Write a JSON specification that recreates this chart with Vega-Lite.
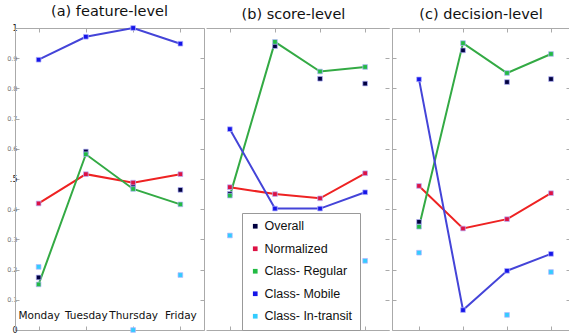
{
  "$schema": "https://vega.github.io/schema/vega-lite/v6.json",
  "padding": {"left": 6, "top": 3, "right": 0, "bottom": 0},
  "background": "white",
  "config": {"view": {"stroke": null}, "font": "DejaVu Sans"},
  "data": {"values": [
    {"panel": "a", "day": "Monday", "series": "Overall", "value": 0.174},
    {"panel": "a", "day": "Tuesday", "series": "Overall", "value": 0.591},
    {"panel": "a", "day": "Thursday", "series": "Overall", "value": 0.475},
    {"panel": "a", "day": "Friday", "series": "Overall", "value": 0.464},
    {"panel": "a", "day": "Monday", "series": "Normalized", "value": 0.419},
    {"panel": "a", "day": "Tuesday", "series": "Normalized", "value": 0.516},
    {"panel": "a", "day": "Thursday", "series": "Normalized", "value": 0.488},
    {"panel": "a", "day": "Friday", "series": "Normalized", "value": 0.516},
    {"panel": "a", "day": "Monday", "series": "Class- Regular", "value": 0.151},
    {"panel": "a", "day": "Tuesday", "series": "Class- Regular", "value": 0.582},
    {"panel": "a", "day": "Thursday", "series": "Class- Regular", "value": 0.467},
    {"panel": "a", "day": "Friday", "series": "Class- Regular", "value": 0.416},
    {"panel": "a", "day": "Monday", "series": "Class- Mobile", "value": 0.895},
    {"panel": "a", "day": "Tuesday", "series": "Class- Mobile", "value": 0.971},
    {"panel": "a", "day": "Thursday", "series": "Class- Mobile", "value": 1.0},
    {"panel": "a", "day": "Friday", "series": "Class- Mobile", "value": 0.948},
    {"panel": "a", "day": "Monday", "series": "Class- In-transit", "value": 0.209},
    {"panel": "a", "day": "Thursday", "series": "Class- In-transit", "value": 0.0},
    {"panel": "a", "day": "Friday", "series": "Class- In-transit", "value": 0.182},
    {"panel": "b", "day": "Monday", "series": "Overall", "value": 0.451},
    {"panel": "b", "day": "Tuesday", "series": "Overall", "value": 0.94},
    {"panel": "b", "day": "Thursday", "series": "Overall", "value": 0.832},
    {"panel": "b", "day": "Friday", "series": "Overall", "value": 0.816},
    {"panel": "b", "day": "Monday", "series": "Normalized", "value": 0.473},
    {"panel": "b", "day": "Tuesday", "series": "Normalized", "value": 0.45},
    {"panel": "b", "day": "Thursday", "series": "Normalized", "value": 0.436},
    {"panel": "b", "day": "Friday", "series": "Normalized", "value": 0.519},
    {"panel": "b", "day": "Monday", "series": "Class- Regular", "value": 0.445},
    {"panel": "b", "day": "Tuesday", "series": "Class- Regular", "value": 0.954},
    {"panel": "b", "day": "Thursday", "series": "Class- Regular", "value": 0.856},
    {"panel": "b", "day": "Friday", "series": "Class- Regular", "value": 0.871},
    {"panel": "b", "day": "Monday", "series": "Class- Mobile", "value": 0.665},
    {"panel": "b", "day": "Tuesday", "series": "Class- Mobile", "value": 0.402},
    {"panel": "b", "day": "Thursday", "series": "Class- Mobile", "value": 0.402},
    {"panel": "b", "day": "Friday", "series": "Class- Mobile", "value": 0.456},
    {"panel": "b", "day": "Monday", "series": "Class- In-transit", "value": 0.313},
    {"panel": "b", "day": "Friday", "series": "Class- In-transit", "value": 0.229},
    {"panel": "c", "day": "Monday", "series": "Overall", "value": 0.358},
    {"panel": "c", "day": "Tuesday", "series": "Overall", "value": 0.926},
    {"panel": "c", "day": "Thursday", "series": "Overall", "value": 0.821},
    {"panel": "c", "day": "Friday", "series": "Overall", "value": 0.831},
    {"panel": "c", "day": "Monday", "series": "Normalized", "value": 0.477},
    {"panel": "c", "day": "Tuesday", "series": "Normalized", "value": 0.336},
    {"panel": "c", "day": "Thursday", "series": "Normalized", "value": 0.367},
    {"panel": "c", "day": "Friday", "series": "Normalized", "value": 0.453},
    {"panel": "c", "day": "Monday", "series": "Class- Regular", "value": 0.342},
    {"panel": "c", "day": "Tuesday", "series": "Class- Regular", "value": 0.95},
    {"panel": "c", "day": "Thursday", "series": "Class- Regular", "value": 0.851},
    {"panel": "c", "day": "Friday", "series": "Class- Regular", "value": 0.914},
    {"panel": "c", "day": "Monday", "series": "Class- Mobile", "value": 0.83},
    {"panel": "c", "day": "Tuesday", "series": "Class- Mobile", "value": 0.066},
    {"panel": "c", "day": "Thursday", "series": "Class- Mobile", "value": 0.196},
    {"panel": "c", "day": "Friday", "series": "Class- Mobile", "value": 0.252},
    {"panel": "c", "day": "Monday", "series": "Class- In-transit", "value": 0.256},
    {"panel": "c", "day": "Thursday", "series": "Class- In-transit", "value": 0.05},
    {"panel": "c", "day": "Friday", "series": "Class- In-transit", "value": 0.192}
  ]},
  "resolve": {"scale": {"x": "independent", "y": "independent", "fill": "shared", "stroke": "shared"}},
  "spacing": 1,
  "hconcat": [
    {
      "width": 189, "height": 302,
      "title": {"text": "(a) feature-level", "fontSize": 14.5, "fontWeight": "normal", "color": "#111", "offset": 5, "font": "DejaVu Sans"},
      "transform": [{"filter": "datum.panel == 'a'"}],
      "resolve": {"axis": {"x": "independent", "y": "independent"}},
      "layer": [
        {
          "transform": [{"filter": "datum.series == 'Normalized' || datum.series == 'Class- Regular' || datum.series == 'Class- Mobile'"}],
          "mark": {"type": "line", "strokeWidth": 2},
          "encoding": {
            "x": {"field": "day", "type": "ordinal", "sort": ["Monday", "Tuesday", "Thursday", "Friday"], "scale": {"type": "point", "padding": 0.5},
              "axis": {"orient": "bottom", "title": null, "labelAngle": 0, "labelFont": "DejaVu Sans", "labelFontSize": 10.5, "labelColor": "#111", "labelPadding": -16, "tickSize": -4, "tickColor": "#aaa", "domainColor": "#aaa", "grid": false}},
            "y": {"field": "value", "type": "quantitative", "scale": {"domain": [0, 1], "nice": false, "zero": false},
              "axis": {"orient": "left", "title": null, "values": [0, 0.1, 0.2, 0.3, 0.4, 0.5, 0.6, 0.7, 0.8, 0.9, 1], "format": ".1~f", "labelExpr": "datum.value == 0.5 ? '.5' : datum.label", "labelFontSize": {"condition": {"test": "datum.value == 0 || datum.value == 1 || datum.value == 0.5", "value": 8}, "value": 6.5}, "labelColor": {"condition": {"test": "datum.value == 0 || datum.value == 1 || datum.value == 0.5", "value": "#222"}, "value": "#777"}, "labelPadding": 2, "tickSize": -4, "tickColor": "#aaa", "domainColor": "#aaa", "grid": false}},
            "stroke": {"field": "series", "type": "nominal", "title": "lines", "scale": {"domain": ["Normalized", "Class- Regular", "Class- Mobile"], "range": ["#ee2222", "#33aa44", "#4444d8"]}, "legend": null}
          }
        },
        {
          "mark": {"type": "point", "shape": "square", "filled": true, "size": 22, "stroke": "#b4b4ff", "strokeWidth": 0.7, "opacity": 1},
          "encoding": {
            "x": {"field": "day", "type": "ordinal", "sort": ["Monday", "Tuesday", "Thursday", "Friday"],
              "axis": {"orient": "top", "title": null, "labels": false, "tickSize": -4, "tickColor": "#aaa", "domainColor": "#aaa", "grid": false}},
            "y": {"field": "value", "type": "quantitative",
              "axis": {"orient": "right", "title": null, "labels": false, "values": [0, 0.1, 0.2, 0.3, 0.4, 0.5, 0.6, 0.7, 0.8, 0.9, 1], "tickSize": -4, "tickColor": "#aaa", "domainColor": "#aaa", "grid": false}},
            "fill": {"field": "series", "type": "nominal", "title": "markers", "scale": {"domain": ["Overall", "Normalized", "Class- Regular", "Class- Mobile", "Class- In-transit"], "range": ["#000040", "#dd1144", "#22bb44", "#1515e8", "#33ccff"]},
              "legend": {"orient": "none", "legendX": 227, "legendY": 185, "title": null, "fillColor": "white", "strokeColor": "#999", "padding": 7, "rowPadding": 9.5, "labelFont": "Liberation Sans", "labelFontSize": 12.5, "labelColor": "#111", "symbolType": "square", "symbolSize": 22, "symbolStrokeWidth": 0, "labelOffset": 3, "cornerRadius": 0}}
          }
        }
      ]
    },
    {
      "width": 183, "height": 302,
      "title": {"text": "(b) score-level", "fontSize": 14.5, "fontWeight": "normal", "color": "#111", "offset": 5, "font": "DejaVu Sans", "dx": -4},
      "transform": [{"filter": "datum.panel == 'b'"}],
      "resolve": {"axis": {"x": "independent", "y": "independent"}},
      "layer": [
        {
          "transform": [{"filter": "datum.series == 'Normalized' || datum.series == 'Class- Regular' || datum.series == 'Class- Mobile'"}],
          "mark": {"type": "line", "strokeWidth": 2},
          "encoding": {
            "x": {"field": "day", "type": "ordinal", "sort": ["Monday", "Tuesday", "Thursday", "Friday"], "scale": {"type": "point", "padding": 0.53},
              "axis": {"orient": "bottom", "title": null, "labels": false, "tickSize": -4, "tickColor": "#aaa", "domainColor": "#aaa", "grid": false}},
            "y": {"field": "value", "type": "quantitative", "scale": {"domain": [0, 1], "nice": false, "zero": false},
              "axis": {"orient": "left", "title": null, "labels": false, "ticks": false, "domain": false, "grid": false}},
            "stroke": {"field": "series", "type": "nominal", "title": "lines", "legend": null}
          }
        },
        {
          "mark": {"type": "point", "shape": "square", "filled": true, "size": 22, "stroke": "#b4b4ff", "strokeWidth": 0.7, "opacity": 1},
          "encoding": {
            "x": {"field": "day", "type": "ordinal", "sort": ["Monday", "Tuesday", "Thursday", "Friday"],
              "axis": {"orient": "top", "title": null, "labels": false, "tickSize": -4, "tickColor": "#aaa", "domainColor": "#aaa", "grid": false}},
            "y": {"field": "value", "type": "quantitative",
              "axis": {"orient": "right", "title": null, "labels": false, "values": [0, 0.1, 0.2, 0.3, 0.4, 0.5, 0.6, 0.7, 0.8, 0.9, 1], "tickSize": -4, "tickColor": "#aaa", "domain": false, "grid": false}},
            "fill": {"field": "series", "type": "nominal", "title": "markers"}
          }
        }
      ]
    },
    {
      "width": 178, "height": 302,
      "title": {"text": "(c) decision-level", "fontSize": 14.5, "fontWeight": "normal", "color": "#111", "offset": 5, "font": "DejaVu Sans"},
      "transform": [{"filter": "datum.panel == 'c'"}],
      "resolve": {"axis": {"x": "independent", "y": "independent"}},
      "layer": [
        {
          "transform": [{"filter": "datum.series == 'Normalized' || datum.series == 'Class- Regular' || datum.series == 'Class- Mobile'"}],
          "mark": {"type": "line", "strokeWidth": 2},
          "encoding": {
            "x": {"field": "day", "type": "ordinal", "sort": ["Monday", "Tuesday", "Thursday", "Friday"], "scale": {"type": "point", "padding": 0.523, "align": 0.587},
              "axis": {"orient": "bottom", "title": null, "labels": false, "tickSize": -4, "tickColor": "#aaa", "domainColor": "#aaa", "grid": false}},
            "y": {"field": "value", "type": "quantitative", "scale": {"domain": [0, 1], "nice": false, "zero": false},
              "axis": {"orient": "left", "title": null, "labels": false, "values": [0, 0.1, 0.2, 0.3, 0.4, 0.5, 0.6, 0.7, 0.8, 0.9, 1], "tickSize": -4, "tickColor": "#aaa", "domainColor": "#aaa", "grid": false}},
            "stroke": {"field": "series", "type": "nominal", "title": "lines", "legend": null}
          }
        },
        {
          "mark": {"type": "point", "shape": "square", "filled": true, "size": 22, "stroke": "#b4b4ff", "strokeWidth": 0.7, "opacity": 1},
          "encoding": {
            "x": {"field": "day", "type": "ordinal", "sort": ["Monday", "Tuesday", "Thursday", "Friday"],
              "axis": {"orient": "top", "title": null, "labels": false, "tickSize": -4, "tickColor": "#aaa", "domainColor": "#aaa", "grid": false}},
            "y": {"field": "value", "type": "quantitative",
              "axis": {"orient": "right", "title": null, "labels": false, "values": [0, 0.1, 0.2, 0.3, 0.4, 0.5, 0.6, 0.7, 0.8, 0.9, 1], "tickSize": -4, "tickColor": "#aaa", "domainColor": "#aaa", "grid": false}},
            "fill": {"field": "series", "type": "nominal", "title": "markers"}
          }
        }
      ]
    }
  ]
}
